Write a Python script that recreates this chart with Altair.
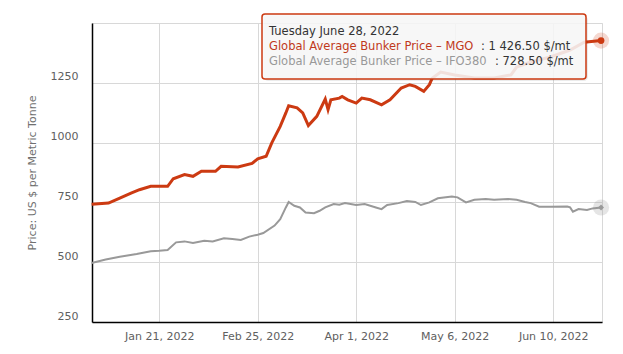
import altair as alt
import pandas as pd

# ---- data ----
mgo_dates = ["2021-12-28", "2022-01-03", "2022-01-07", "2022-01-11", "2022-01-14", "2022-01-18",
             "2022-01-21", "2022-01-24", "2022-01-26", "2022-01-30", "2022-02-02", "2022-02-05",
             "2022-02-10", "2022-02-12", "2022-02-18", "2022-02-23", "2022-02-25", "2022-02-28",
             "2022-03-02", "2022-03-05", "2022-03-07", "2022-03-08", "2022-03-11", "2022-03-13",
             "2022-03-15", "2022-03-18", "2022-03-21", "2022-03-22", "2022-03-23", "2022-03-26",
             "2022-03-27", "2022-03-29", "2022-04-01", "2022-04-03", "2022-04-06", "2022-04-10",
             "2022-04-13", "2022-04-17", "2022-04-20", "2022-04-22", "2022-04-25", "2022-04-27",
             "2022-04-28", "2022-05-01", "2022-05-06", "2022-05-13", "2022-05-20", "2022-05-26",
             "2022-05-28", "2022-06-02", "2022-06-09", "2022-06-16", "2022-06-21", "2022-06-27"]
mgo_values = [742, 747, 768, 789, 803, 817,
              817, 817, 849, 866, 859, 880,
              880, 901, 898, 913, 932, 943,
              999, 1068, 1124, 1154, 1145, 1124,
              1071, 1110, 1182, 1138, 1179, 1186,
              1193, 1179, 1165, 1186, 1179, 1158,
              1179, 1228, 1242, 1235, 1214, 1242,
              1269, 1295, 1283, 1270, 1270, 1283,
              1316, 1337, 1358, 1387, 1420, 1426.5]

ifo_dates = ["2021-12-28", "2022-01-02", "2022-01-07", "2022-01-13", "2022-01-18", "2022-01-21",
             "2022-01-24", "2022-01-27", "2022-01-30", "2022-02-02", "2022-02-06", "2022-02-09",
             "2022-02-13", "2022-02-16", "2022-02-19", "2022-02-22", "2022-02-25", "2022-02-27",
             "2022-03-03", "2022-03-05", "2022-03-07", "2022-03-08", "2022-03-10", "2022-03-12",
             "2022-03-14", "2022-03-17", "2022-03-19", "2022-03-21", "2022-03-24", "2022-03-26",
             "2022-03-28", "2022-04-01", "2022-04-04", "2022-04-08", "2022-04-10", "2022-04-12",
             "2022-04-16", "2022-04-19", "2022-04-22", "2022-04-24", "2022-04-27", "2022-04-30",
             "2022-05-05", "2022-05-07", "2022-05-10", "2022-05-13", "2022-05-17", "2022-05-20",
             "2022-05-25", "2022-05-28", "2022-05-31", "2022-06-02", "2022-06-05", "2022-06-09",
             "2022-06-15", "2022-06-16", "2022-06-17", "2022-06-19", "2022-06-22", "2022-06-24",
             "2022-06-27"]
ifo_values = [497, 511, 523, 534, 546, 548,
              551, 583, 587, 580, 590, 587,
              600, 597, 593, 607, 615, 622,
              653, 680, 729, 752, 736, 729,
              708, 705, 715, 729, 743, 740,
              747, 739, 743, 729, 722, 739,
              747, 756, 752, 739, 750, 767,
              775, 771, 750, 761, 764, 761,
              764, 761, 752, 747, 732, 732,
              733, 729, 711, 722, 718, 725,
              728.5]

y_ticks = [250, 500, 750, 1000, 1250, 1500]
x_ticks = [(2022, 1, 21), (2022, 2, 25), (2022, 4, 1), (2022, 5, 6), (2022, 6, 10)]

tooltip_title = "Tuesday June 28, 2022"
mgo_name = "Global Average Bunker Price – MGO"
mgo_val_txt = ": 1 426.50 $/mt"
ifo_name = "Global Average Bunker Price – IFO380"
ifo_val_txt = ": 728.50 $/mt"

RED = "#cc3a12"
GRAY = "#999999"
FONT = "DejaVu Sans"

mgo = pd.DataFrame({"date": mgo_dates, "price": mgo_values})
ifo = pd.DataFrame({"date": ifo_dates, "price": ifo_values})

xscale = alt.Scale(type="utc",
                   domain=[alt.DateTime(year=2021, month=12, date=28, hours=3, utc=True),
                           alt.DateTime(year=2022, month=6, date=27, hours=8, utc=True)])
yscale = alt.Scale(domain=[250, 1500], nice=False, zero=False)

xaxis = alt.Axis(values=[alt.DateTime(year=a, month=b, date=c, utc=True) for a, b, c in x_ticks],
                 labelExpr="utcFormat(datum.value, '%b %-d, %Y')", title=None,
                 labelFont=FONT, labelFontSize=11, labelColor="#606060", labelPadding=8,
                 tickSize=0, domainColor="#000000", domainWidth=1.5,
                 gridColor="#d8d8d8", gridWidth=1)
yaxis = alt.Axis(values=y_ticks, title="Price: US $ per Metric Tonne",
                 labelExpr="datum.value == 1500 ? '' : format(datum.value, 'd')",
                 labelFont=FONT, labelFontSize=11, labelColor="#606060", labelPadding=14,
                 labelOffset=-6, tickSize=0, domainColor="#000000", domainWidth=1.5,
                 titleFont=FONT, titleFontSize=11, titleColor="#707070", titleFontWeight="normal",
                 titlePadding=13, gridColor="#d8d8d8", gridWidth=1)

X = alt.X("date:T", scale=xscale, axis=xaxis)
Y = alt.Y("price:Q", scale=yscale, axis=yaxis)

ifo_line = alt.Chart(ifo).mark_line(color=GRAY, strokeWidth=2).encode(x=X, y=Y)
mgo_line = alt.Chart(mgo).mark_line(color=RED, strokeWidth=3).encode(x=X, y=Y)

mgo_last = mgo.tail(1)
ifo_last = ifo.tail(1)
mgo_halo = alt.Chart(mgo_last).mark_circle(color=RED, opacity=0.2, size=260).encode(x=X, y=Y)
mgo_dot = alt.Chart(mgo_last).mark_circle(color=RED, opacity=1, size=45).encode(x=X, y=Y)
ifo_halo = alt.Chart(ifo_last).mark_circle(color="#999999", opacity=0.25, size=260).encode(x=X, y=Y)
ifo_dot = alt.Chart(ifo_last).mark_point(shape="diamond", filled=True, color=GRAY, opacity=1, size=35).encode(x=X, y=Y)

# tooltip box (decoration)
box_df = pd.DataFrame({"k": [0]})
shadow = alt.Chart(box_df).mark_rect(cornerRadius=4, fill="#000000", opacity=0.08).encode(
    x=alt.value(172), x2=alt.value(496), y=alt.value(-7), y2=alt.value(58))
box = alt.Chart(box_df).mark_rect(cornerRadius=3, fill="#f8f8f8", fillOpacity=0.88,
                                  stroke=RED, strokeWidth=1.5).encode(
    x=alt.value(170), x2=alt.value(494), y=alt.value(-9), y2=alt.value(56))

def txt(s, x, y, color):
    return alt.Chart(pd.DataFrame({"t": [s]})).mark_text(
        align="left", baseline="middle", font=FONT, fontSize=11.5, color=color).encode(
        x=alt.value(x), y=alt.value(y), text="t:N")

t1 = txt(tooltip_title, 177, 8.5, "#333333")
t2a = txt(mgo_name, 177, 23.5, "#c0391b")
t2b = txt(mgo_val_txt, 389, 23.5, "#333333")
t3a = txt(ifo_name, 177, 38.5, "#999999")
t3b = txt(ifo_val_txt, 403, 38.5, "#333333")

chart = alt.layer(ifo_line, mgo_line, ifo_halo, ifo_dot, shadow, box, mgo_halo, mgo_dot,
                  t1, t2a, t2b, t3a, t3b).properties(
    width=510, height=299,
    autosize=alt.AutoSizeParams(type="none"),
    padding={"left": 92, "top": 23, "right": 21, "bottom": 32},
    background="white",
).configure_view(stroke="#d8d8d8", strokeWidth=1)

chart.save("out.html", embed_options={"renderer": "svg", "actions": False})
